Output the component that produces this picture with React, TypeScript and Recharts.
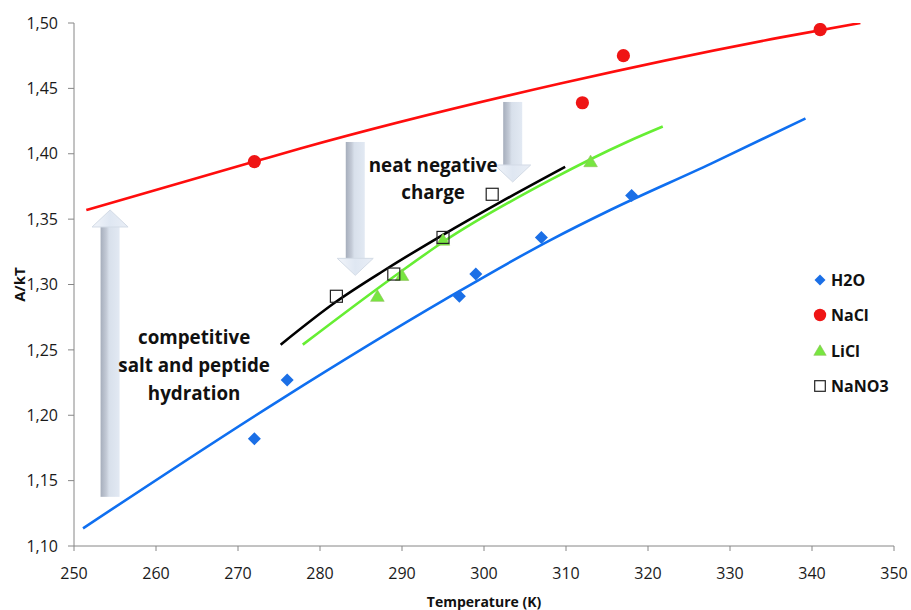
import React from 'react';
import {
  ComposedChart, Line, Scatter, XAxis, YAxis, ReferenceLine, ReferenceDot, Customized,
} from 'recharts';

// ---- data ----
const xTicks = [250, 260, 270, 280, 290, 300, 310, 320, 330, 340, 350];
const yTicks = [1.1, 1.15, 1.2, 1.25, 1.3, 1.35, 1.4, 1.45, 1.5];

const h2oT = [272, 276, 297, 299, 307, 318];
const h2oA = [1.182, 1.227, 1.291, 1.308, 1.336, 1.368];
const naclT = [272, 312, 317, 341];
const naclA = [1.394, 1.439, 1.475, 1.495];
const liclT = [287, 290, 295, 313];
const liclA = [1.291, 1.307, 1.334, 1.394];
const nano3T = [282, 289, 295, 301];
const nano3A = [1.291, 1.308, 1.336, 1.369];

// fitted curves
const naclFitT = [251.5, 272, 277.6, 309.3, 336.2, 345.9];
const naclFitA = [1.357, 1.394, 1.404, 1.4537, 1.489, 1.5];
const h2oFitT = [251.1, 275.2, 295.1, 308.1, 315.4, 327.7, 339.2];
const h2oFitA = [1.1135, 1.212, 1.288, 1.334, 1.357, 1.3925, 1.427];
const liclFitT = [277.9, 289.8, 295, 308.1, 317.5, 321.8];
const liclFitA = [1.254, 1.3096, 1.3325, 1.38, 1.4092, 1.4208];
const nano3FitT = [275.2, 282, 287.8, 295, 302, 309.9];
const nano3FitA = [1.254, 1.287, 1.3107, 1.338, 1.363, 1.39];

const seriesNames = ['H2O', 'NaCl', 'LiCl', 'NaNO3'];

// annotation arrows: x, tail value, tip value
const arrowT = [254.4, 284.3, 303.5];
const arrowFrom = [1.1376, 1.409, 1.4396];
const arrowTo = [1.357, 1.307, 1.3784];

const noteLines1 = ['neat negative', 'charge'];
const noteAt1 = { t: 293.8, a: 1.3912 };
const noteLines2 = ['competitive', 'salt and peptide', 'hydration'];
const noteAt2 = { t: 264.65, a: 1.26 };

const zip = (t: number[], a: number[]) => t.map((v, i) => ({ t: v, a: a[i] }));

const h2oData = zip(h2oT, h2oA);
const naclData = zip(naclT, naclA);
const liclData = zip(liclT, liclA);
const nano3Data = zip(nano3T, nano3A);

const FONT = "'Open Sans', 'DejaVu Sans', sans-serif";

const COLORS = {
  h2oLine: '#0f6ff0',
  h2oPt: '#1b6fe6',
  nacl: '#ff0d0d',
  naclPt: '#ef1515',
  licl: '#66ee33',
  liclPt: '#77e640',
  black: '#000000',
};

const Diamond = ({ cx, cy, s = 6.5 }: any) => (
  <polygon points={`${cx},${cy - s} ${cx + s},${cy} ${cx},${cy + s} ${cx - s},${cy}`} fill={COLORS.h2oPt} />
);
const Circle = ({ cx, cy, r = 6.6 }: any) => <circle cx={cx} cy={cy} r={r} fill={COLORS.naclPt} />;
const Triangle = ({ cx, cy, s = 6.8 }: any) => (
  <polygon
    points={`${cx},${cy - s * 0.95} ${cx + s},${cy + s * 0.75} ${cx - s},${cy + s * 0.75}`}
    fill={COLORS.liclPt}
    stroke="#8fbf5a"
    strokeWidth={0.6}
  />
);
const Square = ({ cx, cy, s = 6 }: any) => (
  <rect x={cx - s} y={cy - s} width={2 * s} height={2 * s} fill="none" stroke="#222" strokeWidth={1.2} />
);

const Arrow = (props: any) => {
  const { x1, y1, y2 } = props;
  if (x1 == null || y1 == null || y2 == null) return <g />;
  const cx = x1;
  const dir = y2 > y1 ? 1 : -1;
  const headLen = 17;
  const sw = 9.5;
  const hw = 18;
  const baseY = y2 - dir * headLen;
  const top = Math.min(y1, baseY);
  const h = Math.abs(baseY - y1);
  return (
    <g>
      <defs>
        <linearGradient id="arrowShaftGrad" x1="0" y1="0" x2="1" y2="0">
          <stop offset="0%" stopColor="#a6aebc" />
          <stop offset="30%" stopColor="#c3cad6" />
          <stop offset="45%" stopColor="#d8e0eb" />
          <stop offset="100%" stopColor="#e2e9f3" />
        </linearGradient>
        <linearGradient id="arrowHeadGrad" x1="0" y1="0" x2="1" y2="0">
          <stop offset="0%" stopColor="#f2f5fa" />
          <stop offset="50%" stopColor="#dfe7f2" />
          <stop offset="100%" stopColor="#e9eef6" />
        </linearGradient>
      </defs>
      <rect x={cx - sw} y={top} width={sw * 2} height={h} fill="url(#arrowShaftGrad)" />
      <polygon
        points={`${cx - hw},${baseY} ${cx + hw},${baseY} ${cx},${y2}`}
        fill="url(#arrowHeadGrad)"
        stroke="#d3dbe6"
        strokeWidth={1}
      />
    </g>
  );
};

const Note = (lines: string[], lineGap: number) => (props: any) => {
  const { cx, cy } = props;
  if (cx == null || cy == null) return <g />;
  return (
    <text
      x={cx}
      y={cy}
      textAnchor="middle"
      dominantBaseline="central"
      fontFamily={FONT}
      fontWeight="bold"
      fontSize={18.8}
      fill="#111"
    >
      {lines.map((l, i) => (
        <tspan key={i} x={cx} dy={i === 0 ? 0 : lineGap}>
          {l}
        </tspan>
      ))}
    </text>
  );
};

const LegendBlock = () => {
  const iconX = 820;
  const textX = 831;
  const rows = [280, 315, 350.7, 386];
  const icons = [
    <Diamond cx={iconX} cy={rows[0]} s={5.5} />,
    <Circle cx={iconX} cy={rows[1]} r={6.2} />,
    <Triangle cx={iconX} cy={rows[2]} s={6.2} />,
    <Square cx={iconX} cy={rows[3]} s={5.3} />,
  ];
  return (
    <g>
      {seriesNames.map((n, i) => (
        <g key={n}>
          {icons[i]}
          <text
            x={textX}
            y={rows[i]}
            dominantBaseline="central"
            fontFamily={FONT}
            fontWeight="bold"
            fontSize={16}
            fill="#111"
          >
            {n}
          </text>
        </g>
      ))}
    </g>
  );
};

const fmt = (v: number) => v.toFixed(2).replace('.', ',');

export default function App() {
  return (
    <div style={{ position: 'absolute', left: 0, top: 0, background: '#fff' }}>
      <ComposedChart
        width={911}
        height={610}
        margin={{ top: 23, right: 17, bottom: 0, left: 0 }}
        style={{ fontFamily: FONT }}
      >
        <XAxis
          dataKey="t"
          type="number"
          domain={[250, 350]}
          ticks={xTicks}
          allowDataOverflow
          height={64}
          axisLine={{ stroke: '#868686', strokeWidth: 1 }}
          tickLine={{ stroke: '#868686' }}
          tickSize={5}
          tickMargin={17}
          tick={{ fill: '#1a1a1a', fontSize: 16, fontFamily: FONT }}
          label={{
            value: 'Temperature (K)',
            position: 'insideBottom',
            offset: 3,
            fill: '#111',
            fontSize: 14,
            fontWeight: 'bold',
            fontFamily: FONT,
          }}
        />
        <YAxis
          dataKey="a"
          type="number"
          domain={[1.1, 1.5]}
          ticks={yTicks}
          allowDataOverflow
          width={74}
          axisLine={{ stroke: '#868686', strokeWidth: 1 }}
          tickLine={{ stroke: '#868686' }}
          tickSize={6}
          tickMargin={10}
          tickFormatter={fmt}
          tick={{ fill: '#1a1a1a', fontSize: 16, fontFamily: FONT }}
          label={{
            content: (p: any) => {
              const vb = p.viewBox || { x: 0, y: 23, width: 74, height: 523 };
              const x = vb.x + 19;
              const y = vb.y + vb.height / 2;
              return (
                <text
                  x={x}
                  y={y}
                  transform={`rotate(-90, ${x}, ${y})`}
                  textAnchor="middle"
                  dominantBaseline="central"
                  fontFamily={FONT}
                  fontWeight="bold"
                  fontSize={15}
                  fill="#111"
                >
                  A/kT
                </text>
              );
            },
          }}
        />

        {arrowT.map((t, i) => (
          <ReferenceLine
            key={`arrow-${i}`}
            segment={[
              { x: t, y: arrowFrom[i] },
              { x: t, y: arrowTo[i] },
            ]}
            shape={Arrow}
            zIndex={-10}
          />
        ))}

        <Line data={zip(naclFitT, naclFitA)} dataKey="a" type="monotone" stroke={COLORS.nacl} strokeWidth={2.6} dot={false} activeDot={false} isAnimationActive={false} legendType="none" />
        <Line data={zip(h2oFitT, h2oFitA)} dataKey="a" type="monotone" stroke={COLORS.h2oLine} strokeWidth={2.6} dot={false} activeDot={false} isAnimationActive={false} legendType="none" />
        <Line data={zip(liclFitT, liclFitA)} dataKey="a" type="monotone" stroke={COLORS.licl} strokeWidth={2.6} dot={false} activeDot={false} isAnimationActive={false} legendType="none" />
        <Line data={zip(nano3FitT, nano3FitA)} dataKey="a" type="monotone" stroke={COLORS.black} strokeWidth={2.6} dot={false} activeDot={false} isAnimationActive={false} legendType="none" />

        <Scatter name={seriesNames[0]} data={h2oData} dataKey="a" shape={(p: any) => <Diamond cx={p.cx} cy={p.cy} />} isAnimationActive={false} />
        <Scatter name={seriesNames[1]} data={naclData} dataKey="a" shape={(p: any) => <Circle cx={p.cx} cy={p.cy} />} isAnimationActive={false} />
        <Scatter name={seriesNames[2]} data={liclData} dataKey="a" shape={(p: any) => <Triangle cx={p.cx} cy={p.cy} />} isAnimationActive={false} />
        <Scatter name={seriesNames[3]} data={nano3Data} dataKey="a" shape={(p: any) => <Square cx={p.cx} cy={p.cy} />} isAnimationActive={false} />

        <ReferenceDot x={noteAt1.t} y={noteAt1.a} r={0} shape={Note(noteLines1, 26.7)} />
        <ReferenceDot x={noteAt2.t} y={noteAt2.a} r={0} shape={Note(noteLines2, 28)} />

        <Customized component={LegendBlock} />
      </ComposedChart>
    </div>
  );
}
